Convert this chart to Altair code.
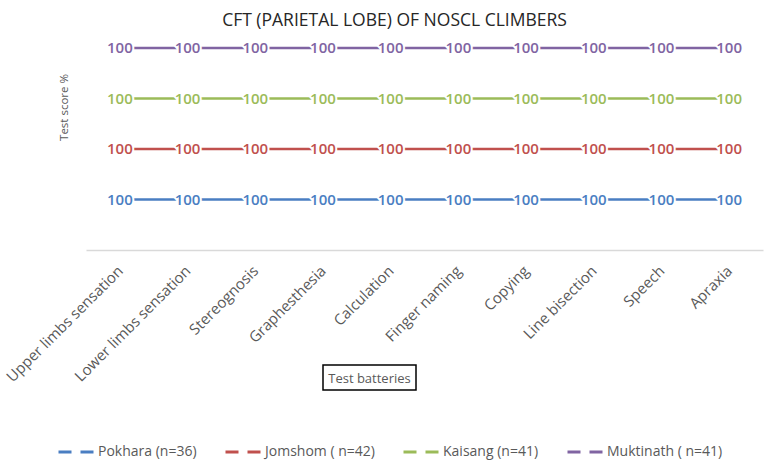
import altair as alt
import pandas as pd

categories = ["Upper limbs sensation", "Lower limbs sensation", "Stereognosis",
              "Graphesthesia", "Calculation", "Finger naming", "Copying",
              "Line bisection", "Speech", "Apraxia"]
series = ["Pokhara (n=36)", "Jomshom ( n=42)", "Kaisang (n=41)", "Muktinath ( n=41)"]
pokhara = [100, 100, 100, 100, 100, 100, 100, 100, 100, 100]
jomshom = [100, 100, 100, 100, 100, 100, 100, 100, 100, 100]
kaisang = [100, 100, 100, 100, 100, 100, 100, 100, 100, 100]
muktinath = [100, 100, 100, 100, 100, 100, 100, 100, 100, 100]
colors = ["#4A7EC2", "#C0504D", "#9BBB59", "#8064A2"]

rows = []
for order, (name, vals) in enumerate(zip(series, [pokhara, jomshom, kaisang, muktinath])):
    for cat, v in zip(categories, vals):
        rows.append({"battery": cat, "series": name, "score": v, "order": order})
df = pd.DataFrame(rows)

FONT = "Open Sans"
GREY = "#595959"

base = alt.Chart(df).transform_stack(
    stack="score", groupby=["battery"], as_=["y0", "y1"],
    sort=[alt.SortField("order", order="ascending")]
)

x_enc = alt.X("battery:N", sort=categories,
              axis=alt.Axis(labelAngle=-45, labelAlign="right", labelBaseline="middle",
                            labelFontSize=15, labelColor=GREY, labelFont=FONT,
                            labelPadding=18, ticks=False, grid=False,
                            domainColor="#D9D9D9", domainWidth=1.5,
                            title="Test batteries", titleFont=FONT, titleFontSize=13,
                            titleFontWeight="normal", titleColor=GREY,
                            titleX=283, titleY=128, titleAlign="center",
                            titleBaseline="middle"))
y_enc = alt.Y("y1:Q", scale=alt.Scale(domain=[0, 400]),
              axis=alt.Axis(labels=False, ticks=False, domain=False, grid=False,
                            title="Test score %", titleFont=FONT, titleFontSize=11.5,
                            titleFontWeight="normal", titleColor=GREY,
                            titleAngle=-90, titleX=-22, titleY=59,
                            titleAlign="center", titleBaseline="middle"))
color_enc = alt.Color("series:N", sort=series,
                      scale=alt.Scale(domain=series, range=colors),
                      legend=alt.Legend(title=None, orient="none", direction="horizontal",
                                        legendX=-29, legendY=385, gridAlign="none",
                                        symbolType="stroke", symbolSize=1225,
                                        symbolStrokeWidth=3, symbolDash=[13, 9],
                                        labelFont=FONT, labelFontSize=14,
                                        labelColor=GREY, labelOffset=3,
                                        columnPadding=22))

lines = base.mark_line(strokeWidth=2.6).encode(x=x_enc, y=y_enc, color=color_enc)
halo = base.mark_text(font=FONT, fontSize=15, fontWeight=600, stroke="white",
                      strokeWidth=4, fill="white").encode(x=x_enc, y=y_enc, text="score:Q")
labels = base.mark_text(font=FONT, fontSize=15, fontWeight=600).encode(
    x=x_enc, y=y_enc, text="score:Q", color=color_enc)

box = alt.Chart(alt.Data(values=[{}])).mark_rect(
    fillOpacity=0, stroke="black", strokeWidth=1.5
).encode(x=alt.value(237), x2=alt.value(330), y=alt.value(317), y2=alt.value(342))

chart = alt.layer(lines, halo, labels, box).properties(
    width=677, height=202,
    title=alt.Title("CFT (PARIETAL LOBE) OF NOSCL CLIMBERS", font=FONT, fontSize=17.5,
                    fontWeight="normal", color="#262626", anchor="middle",
                    frame="group", dx=-30, offset=12),
    autosize=alt.AutoSizeParams(type="none"),
    padding={"left": 86, "top": 48, "right": 4, "bottom": 211},
).configure_view(stroke=None)

chart.save("out.html", embed_options={"renderer": "svg", "actions": False})
